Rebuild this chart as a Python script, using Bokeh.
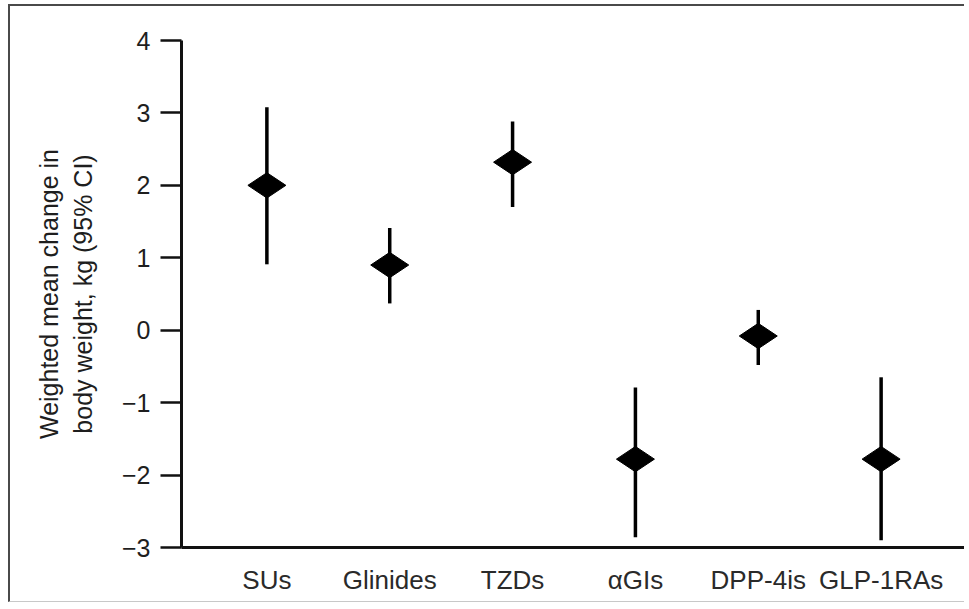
import math
from bokeh.plotting import figure
from bokeh.models import FactorRange, Range1d, FixedTicker, ColumnDataSource
from bokeh.embed import file_html
from bokeh.resources import INLINE

# ---- data ----
categories = ["SUs", "Glinides", "TZDs", "\u03b1GIs", "DPP-4is", "GLP-1RAs"]
mean_change = [2.0, 0.9, 2.32, -1.78, -0.08, -1.78]
ci_low = [0.91, 0.37, 1.70, -2.86, -0.48, -2.90]
ci_high = [3.08, 1.41, 2.88, -0.79, 0.28, -0.65]
y_ticks = [-3, -2, -1, 0, 1, 2, 3, 4]
y_tick_labels = ["\u22123", "\u22122", "\u22121", "0", "1", "2", "3", "4"]

src = ColumnDataSource(dict(cat=categories, mean=mean_change, lo=ci_low, hi=ci_high))

FONT = "Liberation Sans"
TXT = "#1e1e1e"

p = figure(
    width=956, height=598,
    x_range=FactorRange(factors=categories, range_padding=0.195, range_padding_units="absolute"),
    y_range=Range1d(-3, 4),
    output_backend="svg", toolbar_location=None,
    min_border_left=171, min_border_right=0, min_border_top=34, min_border_bottom=57,
)
p.styles = {"margin-left": "8px", "margin-top": "4px",
            "border-left": "2px solid #4a4a4a", "border-top": "2px solid #4a4a4a",
            "border-bottom": "1px solid #c8c8c8"}
p.outline_line_color = None
p.xgrid.grid_line_color = None
p.ygrid.grid_line_color = None
p.background_fill_color = "white"
p.border_fill_color = "white"

# error bars
p.segment(x0="cat", y0="lo", x1="cat", y1="hi", source=src, line_color="black", line_width=3.5)
# diamonds (wider than tall)
p.scatter(x="cat", y="mean", source=src, marker="diamond", size=38, angle=math.pi / 2,
          fill_color="black", line_color="black", line_width=1)

# y axis
ya = p.yaxis[0]
ya.ticker = FixedTicker(ticks=y_ticks)
ya.major_label_overrides = {t: l for t, l in zip(y_ticks, y_tick_labels)}
ya.axis_label = "Weighted mean change in\nbody weight, kg (95% CI)"
ya.axis_label_text_font = FONT
ya.axis_label_text_font_size = "25px"
ya.axis_label_text_font_style = "normal"
ya.axis_label_text_color = TXT
ya.axis_label_standoff = 22
ya.major_label_text_font = FONT
ya.major_label_text_font_size = "25px"
ya.major_label_text_color = TXT
ya.major_label_standoff = 10
ya.major_tick_out = 21
ya.major_tick_in = 0
ya.major_tick_line_width = 2.5
ya.major_tick_line_color = "#111111"
ya.minor_tick_line_color = None
ya.axis_line_width = 3
ya.axis_line_color = "#111111"

# x axis
xa = p.xaxis[0]
xa.major_tick_line_color = None
xa.minor_tick_line_color = None
xa.major_tick_out = 0
xa.major_tick_in = 0
xa.major_label_standoff = 17
xa.major_label_text_font = FONT
xa.major_label_text_font_size = "26px"
xa.major_label_text_color = "#2a2a2a"
xa.axis_line_width = 3
xa.axis_line_color = "#111111"

open("out.html", "w").write(file_html(p, INLINE))
